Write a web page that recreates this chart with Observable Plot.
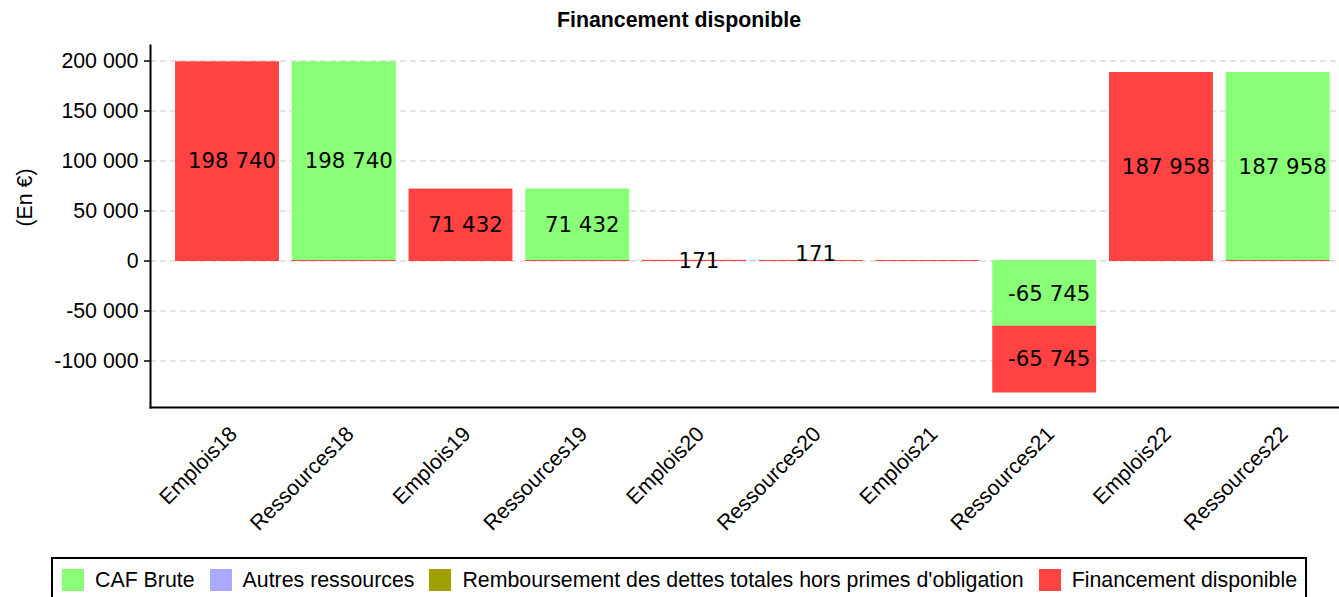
<!DOCTYPE html>
<html>
<head>
<meta charset="utf-8">
<script src="https://cdn.jsdelivr.net/npm/d3@7"></script>
<script src="https://cdn.jsdelivr.net/npm/@observablehq/plot@0.6"></script>
<style>
  html, body { margin: 0; padding: 0; background: #fff; overflow: hidden; }
  #wrap { position: relative; width: 1339px; height: 597px; }
  #title { position: absolute; left: 0; top: 8px; width: 1358px; height: 24px; line-height: 24px;
           text-align: center; font: bold 21.33px "Liberation Sans", Arial, sans-serif; color: #000; }
  #chart { position: absolute; left: 0; top: 40px; }
  #legend { position: absolute; left: 51px; top: 557px; width: 1256px; height: 44px;
            border: 2px solid #000; box-sizing: border-box; display: flex; align-items: flex-start;
            padding-left: 9px; padding-top: 9px;
            font: 21.33px "Liberation Sans", Arial, sans-serif; color: #000; }
  .item { display: flex; align-items: center; margin-right: 15px; white-space: nowrap; }
  .sw { width: 22px; height: 22px; margin-right: 11px; }
  .item span { line-height: 24px; }
</style>
</head>
<body>
<div id="wrap">
  <div id="title">Financement disponible</div>
  <div id="chart"></div>
  <div id="legend"></div>
</div>
<script>
const categories = ["Emplois18", "Ressources18", "Emplois19", "Ressources19", "Emplois20",
                    "Ressources20", "Emplois21", "Ressources21", "Emplois22", "Ressources22"];
const cafBrute              = [0, 198740, 0, 71432, 0, 171, 0, -65745, 0, 187958];
const autresRessources      = [0, 0, 0, 0, 0, 0, 0, 0, 0, 0];
const remboursementDettes   = [0, 0, 0, 0, 0, 0, 0, 0, 0, 0];
const financementDisponible = [198740, 0, 71432, 0, 171, 0, 0, -65745, 187958, 0];
const seriesNames = ["CAF Brute", "Autres ressources",
                     "Remboursement des dettes totales hors primes d'obligation", "Financement disponible"];
const seriesColors = ["#88ff77", "#aaaaff", "#a0a000", "#ff4242"];
const yTicks = [-100000, -50000, 0, 50000, 100000, 150000, 200000];
const yLabel = "(En €)";

const seriesValues = [cafBrute, autresRessources, remboursementDettes, financementDisponible];
const rows = [];
seriesValues.forEach((vals, s) => vals.forEach((v, i) =>
  rows.push({category: categories[i], series: seriesNames[s], value: v})));

const FIN = seriesNames[3];
const barRows = rows.filter(d => d.value !== 0 || d.series === FIN);
const labelRows = rows.filter(d => d.value !== 0);
const isSmallRes = d => d.category.startsWith("Ressources") && Math.abs(d.value) < 1000;
const labelMain = labelRows.filter(d => !isSmallRes(d));
const labelSmall = labelRows.filter(isSmallRes);

const locale = d3.formatLocale({decimal: ",", thousands: " ", grouping: [3], currency: ["", " €"], minus: "-"});
const fmt = locale.format(",d");

const stackOpts = {order: "value"};
const labelStyle = {fontFamily: "DejaVu Sans", fontSize: 21.33, fill: "#000", dx: 4.5, text: d => fmt(d.value)};

const plot = Plot.plot({
  width: 1339,
  height: 517,
  marginLeft: 150,
  marginRight: 0,
  marginTop: 5,
  marginBottom: 150,
  style: {fontFamily: "Liberation Sans, Arial, sans-serif", fontSize: "21.33px", background: "#fff", color: "#000"},
  x: {domain: categories, range: [162.2, 1342.5], paddingInner: 0.11, paddingOuter: 0.11, round: false, label: null},
  y: {domain: [-146500, 215500], label: null},
  color: {domain: seriesNames, range: seriesColors},
  marks: [
    Plot.ruleY(yTicks, {stroke: "#c8c8c8", strokeWidth: 1.2, strokeDasharray: "6,4"}),
    Plot.barY(barRows, Plot.stackY(stackOpts, {
      x: "category", y: "value", z: "series", fill: "series",
      insetTop: -0.5, insetBottom: -0.5
    })),
    Plot.text(labelMain, Plot.stackY(stackOpts, {x: "category", y: "value", z: "series", ...labelStyle})),
    Plot.text(labelSmall, Plot.stackY(stackOpts, {x: "category", y: "value", z: "series", ...labelStyle, dy: -7})),
    Plot.axisY({ticks: yTicks, tickFormat: fmt, tickSize: 6, tickPadding: 6, strokeWidth: 1.5,
                fontSize: 21.33, label: null}),
    Plot.axisX({tickSize: 0, tickRotate: -45, tickPadding: 23, dx: 6, fontSize: 21.33, label: null}),
    Plot.frame({anchor: "left", stroke: "#000", strokeWidth: 2}),
    Plot.frame({anchor: "bottom", stroke: "#000", strokeWidth: 2}),
    Plot.text([yLabel], {frameAnchor: "left", rotate: -90, dx: -125, fontSize: 21.33, fill: "#000"})
  ]
});
document.getElementById("chart").appendChild(plot);

const legend = document.getElementById("legend");
seriesNames.forEach((name, i) => {
  const item = document.createElement("div");
  item.className = "item";
  const sw = document.createElement("div");
  sw.className = "sw";
  sw.style.background = seriesColors[i];
  const t = document.createElement("span");
  t.textContent = name;
  item.appendChild(sw);
  item.appendChild(t);
  legend.appendChild(item);
});
</script>
</body>
</html>
